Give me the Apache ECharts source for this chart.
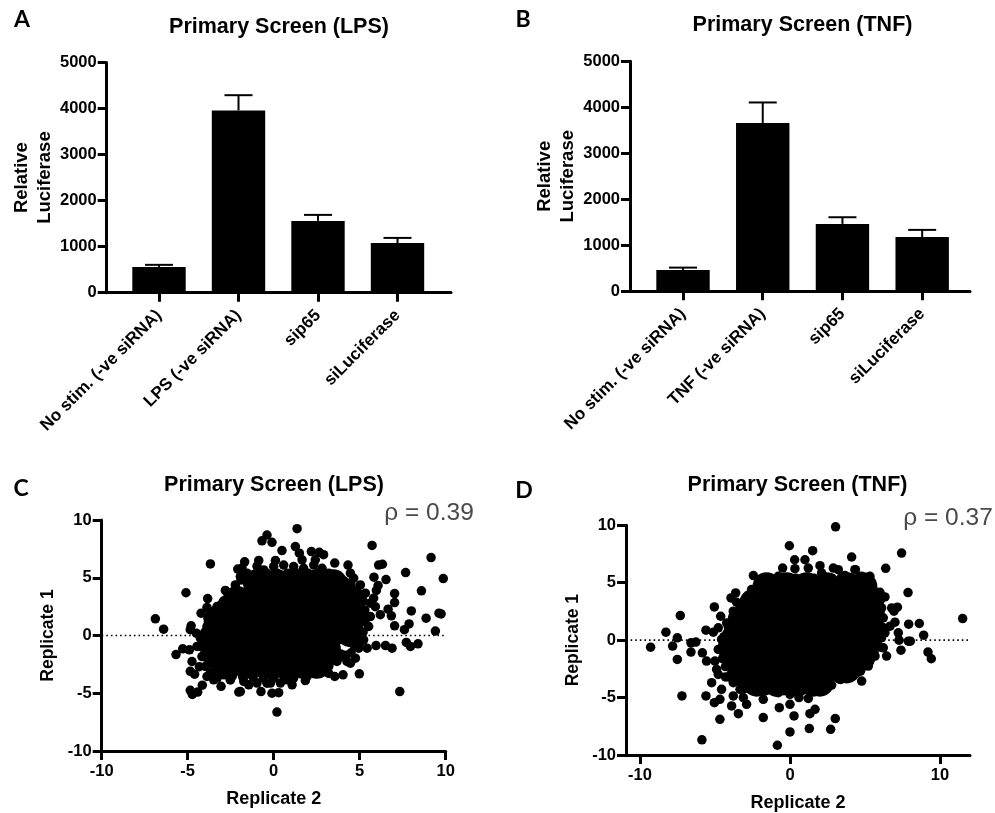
<!DOCTYPE html>
<html><head><meta charset="utf-8"><style>html,body{margin:0;padding:0;background:#fff}#c{width:995px;height:813px}</style>
<script src="https://cdn.jsdelivr.net/npm/echarts@6/dist/echarts.min.js"></script></head><body><div id="c"></div>
<script>
const categoriesA = ['No stim. (-ve siRNA)', 'LPS (-ve siRNA)', 'sip65', 'siLuciferase'];
const categoriesB = ['No stim. (-ve siRNA)', 'TNF (-ve siRNA)', 'sip65', 'siLuciferase'];
const valuesA = [560, 3960, 1560, 1080];
const errorTopA = [605, 4290, 1690, 1190];
const valuesB = [465, 3660, 1465, 1180];
const errorTopB = [515, 4105, 1610, 1335];

// dense middle of each cloud (overlapping points read as one solid region)
const coreC = [
[-.97,4.52],[.19,4.52],[1.36,4.52],[2.52,4.52],[3.47,4.52],
[-2.13,3.08],[-.97,3.08],[.19,3.08],[1.36,3.08],[2.52,3.08],[3.68,3.08],[4.55,3.08],
[-3,1.64],[-1.9,1.64],[-.8,1.64],[.3,1.64],[1.4,1.64],[2.5,1.64],[3.6,1.64],[4.63,1.64],
[-3.25,.2],[-2.1,.2],[-1,.2],[.1,.2],[1.2,.2],[2.3,.2],[3.4,.2],[4.45,.2],
[-3.3,-1.24],[-2.2,-1.24],[-1.1,-1.24],[0,-1.24],[1.1,-1.24],[2.2,-1.24],[3.1,-1.24],
[-2.7,-2.54],[-1.6,-2.54],[-.5,-2.54],[.6,-2.54],[1.7,-2.54],[2.5,-2.54]];
const pointsC = [
[-6.88,1.44],[-6.4,.55],[-5.68,-1.65],[-5.29,-1.15],[-5.1,3.7],[-3.68,6.2],[-3.84,3.2],[-4.8,.84],[-4.85,.5],[-4.75,-2.25],
[-4.85,-3.1],[-4.6,-3.35],[-4.32,-2.7],[-4.15,-4.3],[-4.85,-4.75],[-4.73,-5.1],[-4.42,-4.9],[-3.06,-4.4],[-2.03,-4.9],[-1.94,-4.85],
[-.74,-4.85],[-.1,-5],[.29,-4.95],[.19,-6.63],[1.07,-4.27],[1.84,-3.9],[3.55,-3.55],[4.03,-3.4],[4.98,-3.32],[4.75,-1.96],
[7.33,-4.85],[6.88,-1.1],[6.5,-.87],[5.95,-.87],[7.71,-.6],[7.95,-.95],[8.39,-.72],[7.6,.5],[7.87,1],[7.03,.84],
[6.84,1.7],[6.65,2.28],[7.03,2.85],[7.03,3.63],[8,2.13],[8.86,1.5],[9.4,.38],[9.61,1.93],[9.73,1.87],[8.59,3.87],
[7.67,5.45],[9.86,4.93],[9.15,6.75],[5.72,7.8],[6.1,6.1],[6.32,6.17],[6.53,4.84],[5.83,5.05],[6.07,4.33],[5.97,3.9],
[5.81,3.23],[5.91,2.5],[6.2,1.8],[4.32,6.1],[4.46,5.4],[3.55,6.27],[2.9,7],[2.65,7.2],[2.19,7.27],[2.42,6.55],
[1.36,9.25],[1.26,7.7],[1.49,7.13],[1.65,6.55],[.48,7.35],[-.1,8.07],[-.39,8.7],[-.68,8.2],[.1,6.5],[-.87,6.5],
[-.97,6],[-1.69,6.38],[-1.84,5.84],[-2.09,5.75],[-1.94,5.1],[-2.81,3.9],[-2.71,3.73],[-2.95,2.9],[-3.88,2.43],[-4.22,1.93],
[-3.82,1.5],[-4.26,-.23],[-4.9,-1.24],[-4.46,-.95],[-4.17,-1.82],[-3.88,-3.55],[-3.49,-3.84],[-2.52,-3.84],[-1.45,-4.27],[-.39,-4.13],
[.78,-3.84],[2.52,-2.97],[3.2,-3.27],[3.68,-2.1],[4.46,-2.4],[-1.55,5.4],[-1.16,5.1],[-.58,5.68],[0,5.97],[.58,6.1],
[1.16,5.97],[1.74,5.82],[2.33,6.1],[2.81,5.82],[3.2,5.4],[3.68,4.52],[4.26,4.52],[4.65,4.96],[5.04,4.38],[5.33,3.66],
[5.62,2.8],[5.62,1.64],[5.52,.78],[5.23,-.37],[5.43,-1.1],[4.94,-1.1],[4.26,-2.25],[3.68,-2.25],[3.2,-2.68],[2.52,-3.11],
[1.94,-3.54],[1.16,-3.69],[.39,-4.12],[-.19,-4.12],[-.97,-4.12],[-1.74,-3.98],[-2.52,-3.83],[-3.29,-3.69],[-3.68,-3.26],[-3.97,-2.68],
[-4.03,-1.82],[-4.26,-.95],[-4.07,-.09],[-3.88,.78],[-3.49,1.64],[-3.29,2.51],[-2.52,3.52],[-2.23,4.38],[-1.9,4.81],[-4.5,.2],
[-1,5.4],[-.4,5.4],[.2,5.4],[.8,5.4],[1.4,5.4],[2,5.4],[2.6,5.4],[3.1,5.2],[-1.6,4.7],[4.1,4.7],[4.5,4.4],[-2.2,3.9],
[-2.6,3.4],[4.7,3.9],[5,3.4],[-2.9,3],[-3.1,2.6],[5.2,3],[-3.4,2.2],[-3.7,1.9],[5.3,2.2],[-3.8,1.2],[-3.5,.9],[5.3,1.2],
[-4,.3],[-3.7,.1],[5.2,.3],[5,-.1],[-4.1,-.6],[-3.9,-.3],[5,-.6],[4.7,-.9],[-4,-1.5],[-3.8,-1.1],[4.5,-1.5],[4.2,-1.7],
[3.9,-1.6],[-3.8,-2.2],[-3.5,-2.6],[3.4,-2.2],[3.8,-1.9],[-3.4,-3],[-3,-3.2],[-2.6,-3.3],[2.6,-2.6],[2.9,-2.5],[3.1,-2.2],
[-2.9,-3.4],[-2.4,-3.5],[-1.8,-3.6],[-1.2,-3.6],[-.6,-3.7],[0,-3.7],[.6,-3.5],[1.2,-3.3],[1.8,-3.1],[2.2,-2.9]];

const coreD = [
[-1.56,4.69],[-.22,4.69],[1.11,4.69],[2.44,4.69],[3.78,4.69],[4.89,4.69],
[-2.44,3.24],[-1.11,3.24],[.22,3.24],[1.56,3.24],[2.89,3.24],[4.22,3.24],[5.22,3.24],
[-3.22,1.79],[-1.89,1.79],[-.56,1.79],[.78,1.79],[2.11,1.79],[3.44,1.79],[4.78,1.79],[5.33,1.79],
[-3.56,.35],[-2.22,.35],[-.89,.35],[.44,.35],[1.78,.35],[3.11,.35],[4.44,.35],[5.22,.35],
[-3.67,-1.1],[-2.33,-1.1],[-1,-1.1],[.33,-1.1],[1.67,-1.1],[3,-1.1],[4.33,-1.1],[4.89,-1.1],
[-3.22,-2.55],[-1.89,-2.55],[-.56,-2.55],[.78,-2.55],[2.11,-2.55],[3.44,-2.55],[3.78,-2.55],
[-2.22,-3.7],[-.89,-3.7],[.44,-3.7],[1.56,-3.7],[2,-3.7]];
const pointsD = [
[-2.44,5.62],[-2,5.12],[-1.56,5.27],[-.78,5.56],[-.49,6.28],[.33,6.22],[1,7],[1.22,6.28],[2,6.48],[2.11,5.85],
[2.89,6.28],[3.22,6.14],[3.67,5.62],[4.33,6.14],[4.78,5.56],[5.33,5.56],[5.44,4.83],[6,4.17],[6.33,3.76],[6.11,2.81],
[6.78,2.81],[7.16,2.87],[6.93,2.52],[6.22,1.94],[7,1.56],[6.67,1.22],[6.33,.64],[7.22,.64],[7.27,0],[7.89,-.09],
[7.4,-.87],[6.22,-.67],[6.44,-1.39],[5.67,-1.39],[5.22,-2.26],[4.78,-3.56],[3.78,-3.13],[3.38,-3.42],[2.78,-3.91],[2,-3.7],
[1.56,-4.28],[1.22,-5.07],[.6,-5],[0,-4.72],[-.78,-4.57],[0,-5.59],[-.71,-5.88],[.27,-6.6],[0,-7.99],[-.84,-9.15],
[-1.78,-6.74],[1.33,-6.4],[1.67,-6.02],[1.29,-7.7],[3.02,-6.83],[2.71,-7.76],[-1.78,-5.15],[-2.22,-4.43],[-2.89,-5.59],[-3.44,-6.4],
[-3.89,-5.73],[-3.11,-5],[-3.78,-4.86],[-4.67,-5.15],[-5.04,-5.44],[-5.6,-4.86],[-7.2,-4.86],[-4.67,-6.89],[-5.87,-8.68],[-4.56,-4.28],
[-5.22,-3.7],[-4.78,-2.98],[-4.89,-2.55],[-5,-1.82],[-5.56,-1.82],[-5.84,-1.1],[-6.6,-1.04],[-7.51,-1.68],[-7.82,-.52],[-9.29,-.61],
[-8.27,.69],[-7.51,.2],[-6.6,-.23],[-6.27,-.17],[-7.31,2.14],[-5.6,.87],[-5.11,.69],[-4.78,1.07],[-4.62,2.08],[-5.04,2.89],
[-3.93,3.68],[-3.62,4.11],[-3.56,3.3],[-2.89,3.68],[-2.56,4.4],[-3.78,2.52],[-4.22,1.5],[-4.56,.06],[-4.78,-.81],[8.62,1.45],
[7.91,1.39],[8.91,.43],[8.02,-.09],[9.2,-1.04],[9.42,-1.62],[11.51,1.88],[7.87,4.14],[7.44,7.58],[6.38,6.25],[4.11,7.24],
[4.36,6.14],[3.04,9.87],[1.51,7.79],[-.04,8.22],[.31,7],[-3.78,-3.7],[-3.33,-4.28],[-2.67,-4.1],[-4.5,-1.6],[-4.3,-3.2],
[-1.4,5.4],[-.8,5.4],[-.2,5.4],[.4,5.4],[1,5.4],[1.6,5.4],[2.2,5.4],[2.8,5.4],[3.4,5.4],[4,5.4],[4.6,5.4],[5.2,5.2],
[-2,4.8],[5.5,4.5],[5.7,4.2],[-2.6,4],[-2.2,4.2],[5.8,3.8],[6,3.4],[-3,3.2],[-3.2,2.8],[5.7,3],[-3.4,2.4],[-3.7,2],
[6,2.4],[5.9,2],[-3.9,1.5],[-4.1,1.1],[5.9,1.5],[6.2,1.1],[-4.2,.6],[-4.4,.3],[5.9,.6],[6.1,.2],[-4.3,-.3],[-4.5,-.5],
[5.8,-.3],[6,-.6],[-4.4,-1.2],[-4.2,-1.5],[5.6,-1.1],[5.4,-1.6],[-4.1,-2],[-4.3,-2.3],[5,-2],[5.3,-1.9],[4.8,-2.4],
[-3.9,-2.9],[-4.1,-3.2],[4.4,-2.9],[4.7,-2.7],[4.2,-3],[-3.5,-3.6],[-3.1,-3.9],[3.3,-3.4],[3.6,-3.1],[-3,-4.2],[-2.6,-4.3],
[-1.6,-4.4],[-1,-4.5],[-.4,-4.4],[.2,-4.4],[.8,-4.4],[1.4,-4.1],[2.4,-3.9]];

const yTicksBar = 1000, yTicksScatter = 5;
const font = '"Liberation Sans", Arial, sans-serif';
const black = '#000';
const axisLine = {show:true, onZero:false, lineStyle:{color:black, width:3}};
const axisTick = {show:true, length:9, lineStyle:{color:black, width:3}};
const tickLabel = {color:black, fontFamily:font, fontWeight:'bold', fontSize:16.5, formatter:v=>String(v)};
const nameStyle = {color:black, fontFamily:font, fontWeight:'bold', fontSize:17.5};

function barAxes(cats, xmin, xmax, idx){
  const pos = cats.map((c,i)=>i);
  return {
    x:{gridIndex:idx, type:'value', min:xmin, max:xmax, splitLine:{show:false}, axisLine,
       axisTick:Object.assign({}, axisTick, {customValues:pos}),
       axisLabel:Object.assign({}, tickLabel, {customValues:pos, rotate:45, margin:20, fontSize:17, hideOverlap:false, formatter:v=>cats[Math.round(v)]})},
    y:{gridIndex:idx, type:'value', min:0, max:5000, interval:yTicksBar, splitLine:{show:false}, axisLine, axisTick,
       axisLabel:Object.assign({}, tickLabel, {margin:10}),
       name:'Relative\nLuciferase', nameLocation:'middle', nameGap:49, nameRotate:90,
       nameTextStyle:Object.assign({}, nameStyle, {fontSize:18.5, lineHeight:23})}
  };
}
function scatterAxes(xmin, xmax, xTicks, idx, yGap){
  const xLab = Object.assign({}, tickLabel, {margin:12});
  const xT = Object.assign({}, axisTick);
  const xa = {gridIndex:idx, type:'value', min:xmin, max:xmax, splitLine:{show:false}, axisLine, axisTick:xT, axisLabel:xLab,
     name:'Replicate 2', nameLocation:'middle', nameGap:39, nameTextStyle:Object.assign({}, nameStyle, {fontSize:18})};
  if (xTicks) { xT.customValues = xTicks; xLab.customValues = xTicks; } else { xa.interval = 5; }
  return {
    x:xa,
    y:{gridIndex:idx, type:'value', min:-10, max:10, interval:yTicksScatter, splitLine:{show:false}, axisLine, axisTick,
       axisLabel:Object.assign({}, tickLabel, {margin:10}),
       name:'Replicate 1', nameLocation:'middle', nameGap:yGap, nameRotate:90, nameTextStyle:nameStyle}
  };
}
function barSeries(vals, tops, idx){
  return [
   {type:'custom', xAxisIndex:idx, yAxisIndex:idx, silent:true, z:2,
    data:vals.map((v,i)=>[i,v,tops[i]]), encode:{x:0,y:[1,2]},
    renderItem:(p,api)=>{
      const a=api.coord([api.value(0),api.value(1)]), b=api.coord([api.value(0),api.value(2)]);
      const st={stroke:black, lineWidth:2};
      return {type:'group',children:[
        {type:'line',shape:{x1:a[0],y1:a[1],x2:b[0],y2:b[1]},style:st},
        {type:'line',shape:{x1:b[0]-14,y1:b[1],x2:b[0]+14,y2:b[1]},style:st}]};
    }},
   {type:'bar', xAxisIndex:idx, yAxisIndex:idx, barWidth:53.4, z:3, silent:true,
    itemStyle:{color:black}, data:vals.map((v,i)=>[i,v])}
  ];
}
function scatterSeries(core, pts, xmin, xmax, idx){
  return [
   {type:'line', xAxisIndex:idx, yAxisIndex:idx, z:1, symbol:'none', silent:true,
    lineStyle:{color:black, width:1.6, type:[1.6,3]}, data:[[xmin,0],[xmax,0]]},
   {type:'scatter', xAxisIndex:idx, yAxisIndex:idx, z:3, silent:true, symbolSize:28, itemStyle:{color:black, opacity:1}, data:core},
   {type:'scatter', xAxisIndex:idx, yAxisIndex:idx, z:3, silent:true, symbolSize:9.5, itemStyle:{color:black, opacity:1}, data:pts}
  ];
}
const aA = barAxes(categoriesA, -0.658, 3.673, 0);
const aB = barAxes(categoriesB, -0.665, 3.6, 1);
const aC = scatterAxes(-10, 10, null, 2, 45);
const aD = scatterAxes(-10.93, 12, [-10,0,10], 3, 44);
function txt(text,x,y,size,extra){
  return {text, left:x, top:y, textAlign:'center', textVerticalAlign:'middle', padding:0,
    textStyle:Object.assign({fontFamily:font, fontWeight:'bold', fontSize:size, color:black}, extra||{})};
}
const letterFont = {fontFamily:'Lato, sans-serif', fontWeight:'bold'};
const rhoFont = {fontWeight:'normal', color:'#4a4a4a'};
const chart = echarts.init(document.getElementById('c'), null, {renderer:'canvas'});
chart.setOption({
  animation:false, backgroundColor:'#fff',
  title:[
    txt('Primary Screen (LPS)',279,27,21.5), txt('Primary Screen (TNF)',802.5,25,21.5),
    txt('Primary Screen (LPS)',274,485,21.5), txt('Primary Screen (TNF)',797.5,485,21.5),
    txt('A',22,20,23,letterFont), txt('B',523,20,23,letterFont), txt('C',21,489,23,letterFont), txt('D',524,491,23,letterFont),
    txt('ρ = 0.39',429,513,24.5,rhoFont), txt('ρ = 0.37',948,518,24.5,rhoFont)
  ],
  grid:[
    {left:106.7, top:62.5, width:344.3, height:230.2},
    {left:630, top:61.3, width:340, height:230},
    {left:101.7, top:520, width:344, height:231},
    {left:626, top:525.3, width:344, height:230.4}
  ],
  xAxis:[aA.x,aB.x,aC.x,aD.x],
  yAxis:[aA.y,aB.y,aC.y,aD.y],
  series:[].concat(
    barSeries(valuesA,errorTopA,0), barSeries(valuesB,errorTopB,1),
    scatterSeries(coreC,pointsC,-10,10,2), scatterSeries(coreD,pointsD,-10.93,12,3))
});
</script></body></html>
